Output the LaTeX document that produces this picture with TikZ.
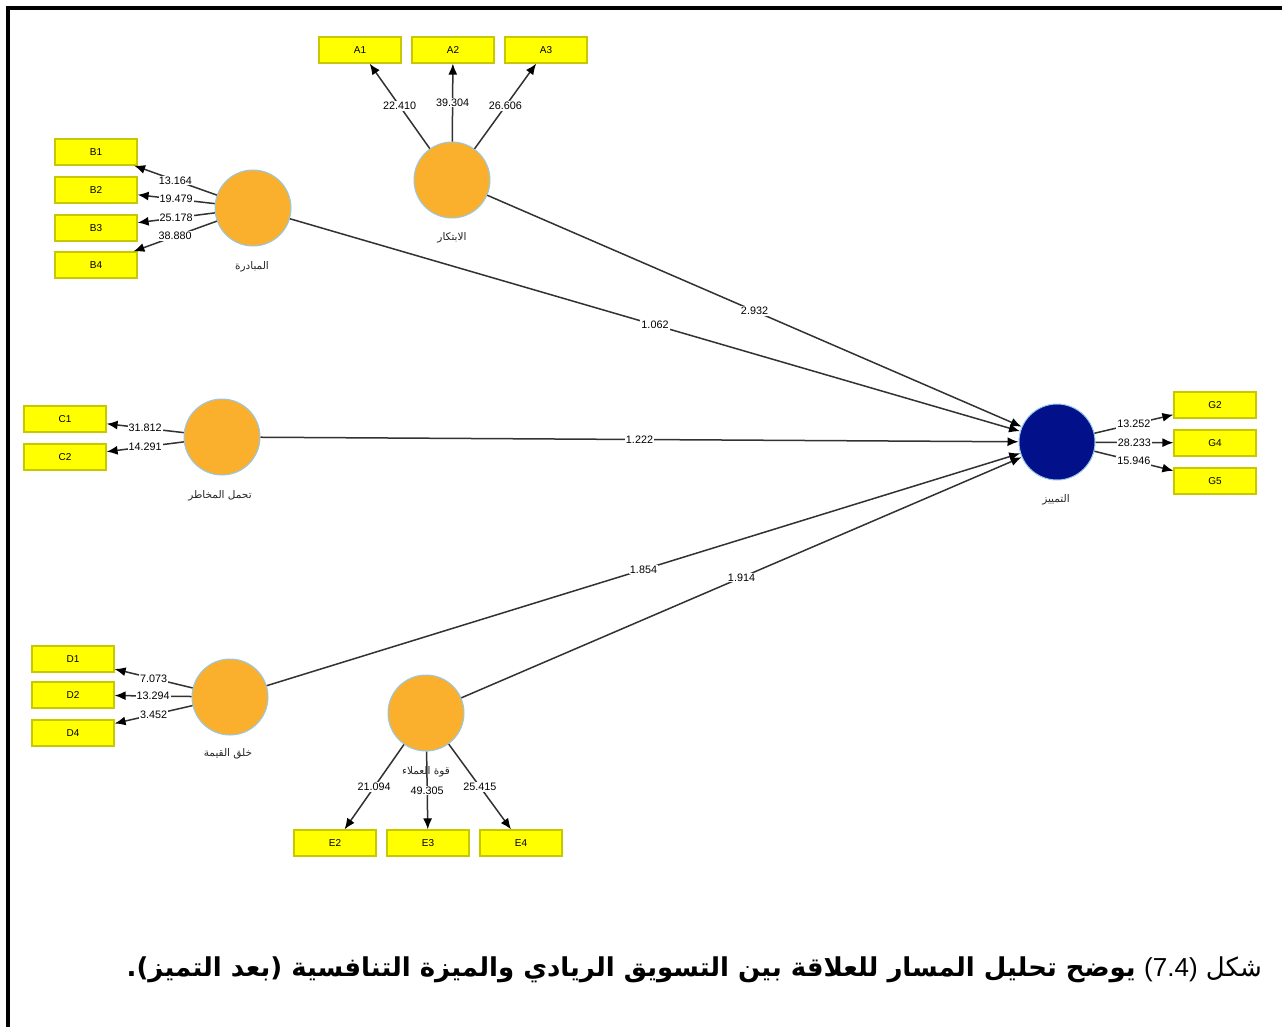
\documentclass[tikz,border=0pt]{standalone}
\usepackage{fontspec}
\setmainfont{Liberation Sans}
\newfontfamily\arabicfont[Script=Arabic]{DejaVu Sans}
\TeXXeTstate=1
\usetikzlibrary{arrows.meta}
\definecolor{latorange}{RGB}{250,176,45}
\definecolor{circborder}{RGB}{150,200,232}
\definecolor{boxyellow}{RGB}{255,255,0}
\definecolor{boxborder}{RGB}{200,200,0}
\definecolor{navyfill}{RGB}{2,16,138}
\definecolor{linegray}{RGB}{50,50,50}
\tikzset{
  ind/.style={draw=boxborder, fill=boxyellow, line width=1.2pt, minimum width=82pt, minimum height=26pt, inner sep=0pt, font=\fontsize{10}{12}\selectfont},
  lat/.style={circle, draw=circborder, fill=latorange, line width=1pt, minimum size=76pt, inner sep=0pt},
  conn/.style={draw=linegray, line width=1.5pt, -{Latex[length=11pt,width=9pt,color=black]}},
  lbl/.style={fill=white, inner sep=1pt, font=\fontsize{10.8}{12}\selectfont},
  latname/.style={font=\arabicfont\fontsize{10.5}{12}\selectfont, text=black!85, inner sep=0pt}
}
\begin{document}
\begin{tikzpicture}[x=1pt,y=-1pt]
\useasboundingbox (0,0) rectangle (1282,1026);
\fill[white] (0,0) rectangle (1282,1026);
\draw[line width=4pt, line join=miter] (8,1030) -- (8,8) -- (1290,8);

% latent variables
\node[lat] (A) at (452,180) {};
\node[lat] (B) at (253,208) {};
\node[lat] (C) at (222,437) {};
\node[lat] (D) at (230,697) {};
\node[lat] (E) at (426,713) {};
\node[lat, fill=navyfill] (G) at (1057,442) {};

\node[latname] (An) at (452,238) {\beginR الابتكار\endR};
\node[latname] (Bn) at (252,267) {\beginR المبادرة\endR};
\node[latname] (Cn) at (220,496) {\beginR تحمل المخاطر\endR};
\node[latname] (Dn) at (228,754) {\beginR خلق القيمة\endR};
\node[latname] (Gn) at (1056,500) {\beginR التمييز\endR};

% indicators
\node[ind] (A1) at (360,50) {A1};
\node[ind] (A2) at (453,50) {A2};
\node[ind] (A3) at (546,50) {A3};
\node[ind] (B1) at (96,152) {B1};
\node[ind] (B2) at (96,190) {B2};
\node[ind] (B3) at (96,228) {B3};
\node[ind] (B4) at (96,265) {B4};
\node[ind] (C1) at (65,419) {C1};
\node[ind] (C2) at (65,457) {C2};
\node[ind] (D1) at (73,659) {D1};
\node[ind] (D2) at (73,695) {D2};
\node[ind] (D4) at (73,733) {D4};
\node[ind] (E2) at (335,843) {E2};
\node[ind] (E3) at (428,843) {E3};
\node[ind] (E4) at (521,843) {E4};
\node[ind] (G2) at (1215,405) {G2};
\node[ind] (G4) at (1215,443) {G4};
\node[ind] (G5) at (1215,481) {G5};

% outer loadings
\draw[conn] (A) -- node[lbl] (lA1) {22.410} (A1);
\draw[conn] (A) -- node[lbl] (lA2) {39.304} (A2);
\draw[conn] (A) -- node[lbl] (lA3) {26.606} (A3);
\draw[conn] (B) -- node[lbl] (lB1) {13.164} (B1);
\draw[conn] (B) -- node[lbl] (lB2) {19.479} (B2);
\draw[conn] (B) -- node[lbl] (lB3) {25.178} (B3);
\draw[conn] (B) -- node[lbl] (lB4) {38.880} (B4);
\draw[conn] (C) -- node[lbl] (lC1) {31.812} (C1);
\draw[conn] (C) -- node[lbl] (lC2) {14.291} (C2);
\draw[conn] (D) -- node[lbl] (lD1) {7.073} (D1);
\draw[conn] (D) -- node[lbl] (lD2) {13.294} (D2);
\draw[conn] (D) -- node[lbl] (lD4) {3.452} (D4);
\draw[conn] (E) -- node[lbl] (lE2) {21.094} (E2);
\draw[conn] (E) -- node[lbl] (lE3) {49.305} (E3);
\draw[conn] (E) -- node[lbl] (lE4) {25.415} (E4);
\draw[conn] (G) -- node[lbl] (lG2) {13.252} (G2);
\draw[conn] (G) -- node[lbl] (lG4) {28.233} (G4);
\draw[conn] (G) -- node[lbl] (lG5) {15.946} (G5);

\node[latname] (En) at (426,772) {\beginR قوة العملاء\endR};

% path coefficients
\draw[conn] (A) -- node[lbl] (pA) {2.932} (G);
\draw[conn] (B) -- node[lbl] (pB) {1.062} (G);
\draw[conn] (C) -- node[lbl] (pC) {1.222} (G);
\draw[conn] (D) -- node[lbl] (pD) {1.854} (G);
\draw[conn] (E) -- node[lbl] (pE) {1.914} (G);

% caption
\node[anchor=east, inner sep=0pt] (cap) at (1262,970) {\arabicfont\fontsize{26}{30}\selectfont\beginR شكل \beginL{\rmfamily(7.4)}\endL{} \bfseries يوضح تحليل المسار للعلاقة بين التسويق الريادي والميزة التنافسية (بعد التميز).\endR};
\end{tikzpicture}
\end{document}
